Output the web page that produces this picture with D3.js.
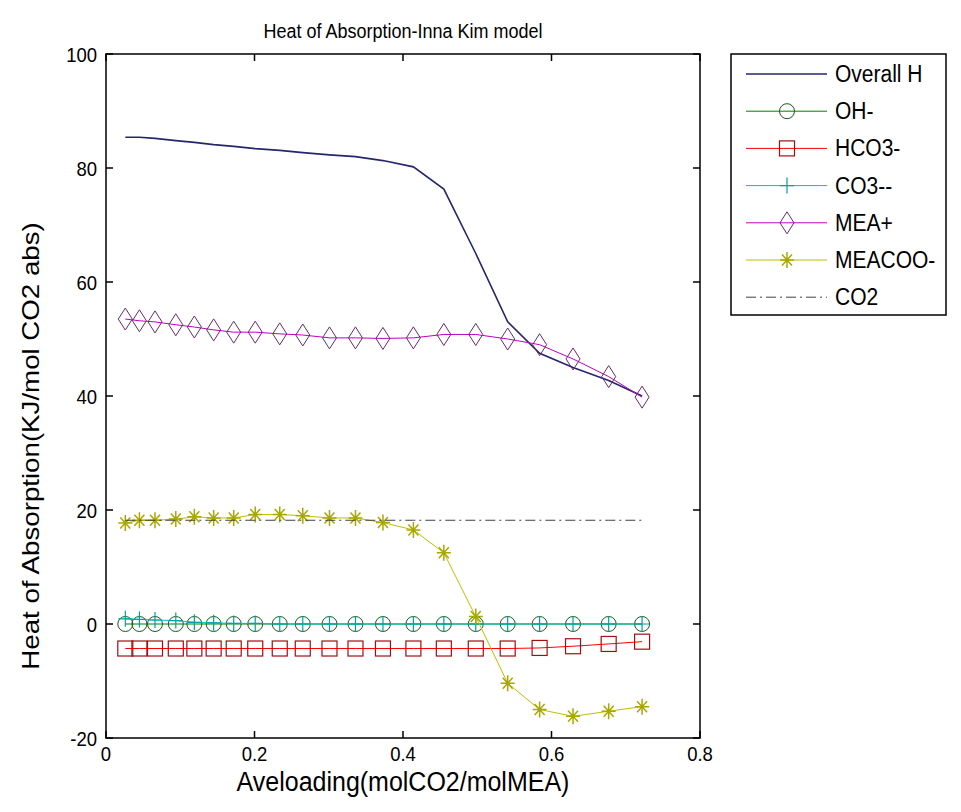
<!DOCTYPE html>
<html><head><meta charset="utf-8">
<script src="https://cdn.jsdelivr.net/npm/d3@7"></script>
<style>body{margin:0;background:#fff}svg{display:block}text{font-family:"Liberation Sans",Arial,sans-serif;fill:#000}</style>
</head><body>
<script>
const loading = [0.026,0.045,0.066,0.094,0.119,0.145,0.172,0.201,0.234,0.265,0.301,0.336,0.373,0.414,0.455,0.498,0.541,0.584,0.629,0.677,0.722];
const overallH = [85.4,85.4,85.2,84.8,84.5,84.1,83.8,83.4,83.1,82.7,82.3,82.0,81.3,80.2,76.3,65.0,53.0,47.5,45.0,42.7,40.0];
const ohMinus = [0,0,0,0,0,0,0,0,0,0,0,0,0,0,0,0,0,0,0,0,0];
const hco3Minus = [-4.3,-4.3,-4.3,-4.3,-4.3,-4.3,-4.3,-4.3,-4.3,-4.3,-4.3,-4.3,-4.3,-4.3,-4.3,-4.3,-4.3,-4.2,-3.9,-3.5,-3.1];
const co3 = [0.9,0.8,0.7,0.6,0.3,0.2,0.1,0.1,0,0,0,0,0,0,0,0,0,0,0,0,0];
const meaPlus = [53.5,53.2,53.0,52.5,52.1,51.6,51.2,51.2,50.9,50.7,50.2,50.2,50.1,50.2,50.8,50.8,50.0,49.0,46.5,43.4,39.8];
const meacoo = [17.7,18.2,18.2,18.4,18.8,18.6,18.6,19.2,19.2,19.0,18.6,18.6,17.8,16.5,12.5,1.3,-10.4,-15.0,-16.2,-15.3,-14.5];
const co2 = [18.2,18.2,18.2,18.2,18.2,18.2,18.2,18.2,18.2,18.2,18.2,18.2,18.2,18.2,18.2,18.2,18.2,18.2,18.2,18.2,18.2];
const seriesNames = ["Overall H","OH-","HCO3-","CO3--","MEA+","MEACOO-","CO2"];
const xTicks = [0,0.2,0.4,0.6,0.8];
const yTicks = [-20,0,20,40,60,80,100];
const titleText = "Heat of Absorption-Inna Kim model";
const xLabel = "Aveloading(molCO2/molMEA)";
const yLabel = "Heat of Absorption(KJ/mol CO2 abs)";

const W = 961, H = 812;
const L = 106, R = 700, T = 54, B = 738;
const VS = 1.13;

const series = [
  {name: seriesNames[0], values: overallH, color: "#26266e", marker: null, width: 1.6, dash: null},
  {name: seriesNames[1], values: ohMinus, color: "#008000", mcolor: "#1a5a1a", marker: "circle", width: 1, dash: null},
  {name: seriesNames[2], values: hco3Minus, color: "#ff0000", mcolor: "#a01010", marker: "square", width: 1, dash: null},
  {name: seriesNames[3], values: co3, color: "#00bfbf", mcolor: "#00a0a0", marker: "plus", width: 1, dash: null},
  {name: seriesNames[4], values: meaPlus, color: "#bf00bf", mcolor: "#6a2a6a", marker: "diamond", width: 1, dash: null},
  {name: seriesNames[5], values: meacoo, color: "#bfbf00", mcolor: "#a8a800", marker: "star", width: 1, dash: null},
  {name: seriesNames[6], values: co2, color: "#404040", marker: null, width: 1, dash: "10,4,2,4"}
];

const svg = d3.select("body").append("svg").attr("width", W).attr("height", H);
const x = d3.scaleLinear().domain([0, 0.8]).range([L, R]);
const y = d3.scaleLinear().domain([-20, 100]).range([B, T]);

function txt(g, s, tx, ty, anchor, fs, rot) {
  const sc = rot ? `rotate(${rot}) scale(${VS},1)` : `scale(1,${VS})`;
  return g.append("text").attr("transform", `translate(${tx},${ty}) ` + sc)
    .attr("text-anchor", anchor).attr("font-size", fs).text(s);
}

const plot = svg.append("g");
function drawMarker(g, type, cx, cy, stroke) {
  if (type === "circle") {
    g.append("circle").attr("cx", cx).attr("cy", cy).attr("r", 7.5).attr("fill", "none").attr("stroke", stroke).attr("stroke-width", 1);
  } else if (type === "square") {
    g.append("rect").attr("x", cx - 7.5).attr("y", cy - 7.5).attr("width", 15).attr("height", 15).attr("fill", "none").attr("stroke", stroke).attr("stroke-width", 1.2);
  } else if (type === "plus") {
    g.append("path").attr("d", `M${cx-7},${cy}H${cx+7}M${cx},${cy-8}V${cy+8}`).attr("stroke", stroke).attr("stroke-width", 1.2).attr("fill", "none");
  } else if (type === "diamond") {
    g.append("path").attr("d", `M${cx},${cy-11}L${cx+7},${cy}L${cx},${cy+11}L${cx-7},${cy}Z`).attr("fill", "none").attr("stroke", stroke).attr("stroke-width", 1);
  } else if (type === "star") {
    g.append("path").attr("d", `M${cx-7},${cy}H${cx+7}M${cx},${cy-8}V${cy+8}M${cx-5},${cy-5.5}L${cx+5},${cy+5.5}M${cx-5},${cy+5.5}L${cx+5},${cy-5.5}`).attr("stroke", stroke).attr("stroke-width", 1.5).attr("fill", "none");
  }
}
const line = d3.line().x(d => x(d[0])).y(d => y(d[1]));
series.forEach(s => {
  const pts = loading.map((l, i) => [l, s.values[i]]);
  const g = plot.append("g");
  g.append("path").attr("d", line(pts)).attr("fill", "none").attr("stroke", s.color).attr("stroke-width", s.width)
    .attr("stroke-dasharray", s.dash);
  if (s.marker) pts.forEach(p => drawMarker(g, s.marker, x(p[0]), y(p[1]), s.mcolor));
});

const ax = svg.append("g");
ax.append("rect").attr("x", L).attr("y", T).attr("width", R - L).attr("height", B - T).attr("fill", "none").attr("stroke", "#000").attr("stroke-width", 1.5);
const tl = 7;
xTicks.forEach(t => {
  ax.append("line").attr("x1", x(t)).attr("x2", x(t)).attr("y1", B).attr("y2", B - tl).attr("stroke", "#000").attr("stroke-width", 1.5);
  ax.append("line").attr("x1", x(t)).attr("x2", x(t)).attr("y1", T).attr("y2", T + tl).attr("stroke", "#000").attr("stroke-width", 1.5);
  txt(ax, d3.format("")(t), x(t), B + 23, "middle", 18.5);
});
yTicks.forEach(t => {
  ax.append("line").attr("x1", L).attr("x2", L + tl).attr("y1", y(t)).attr("y2", y(t)).attr("stroke", "#000").attr("stroke-width", 1.5);
  ax.append("line").attr("x1", R).attr("x2", R - tl).attr("y1", y(t)).attr("y2", y(t)).attr("stroke", "#000").attr("stroke-width", 1.5);
  txt(ax, String(t), L - 9, y(t) + 8, "end", 18.5);
});
txt(svg, titleText, (L + R) / 2, 38, "middle", 18);
txt(svg, xLabel, (L + R) / 2, 791, "middle", 25);
txt(svg, yLabel, 39, 446, "middle", 24.5, -90);

const lg = svg.append("g");
const LX = 731, LY = 54, LW = 215, rowH = 37.2;
lg.append("rect").attr("x", LX).attr("y", LY).attr("width", LW).attr("height", 261).attr("fill", "#fff").attr("stroke", "#000").attr("stroke-width", 1.5);
series.forEach((s, i) => {
  const cy = LY + 20 + i * rowH;
  lg.append("line").attr("x1", 746).attr("x2", 827).attr("y1", cy).attr("y2", cy).attr("stroke", s.color).attr("stroke-width", s.width).attr("stroke-dasharray", s.dash);
  if (s.marker) drawMarker(lg, s.marker, 787, cy, s.mcolor);
  txt(lg, s.name, 835, cy + 8, "start", 21);
});
</script>
</body></html>
